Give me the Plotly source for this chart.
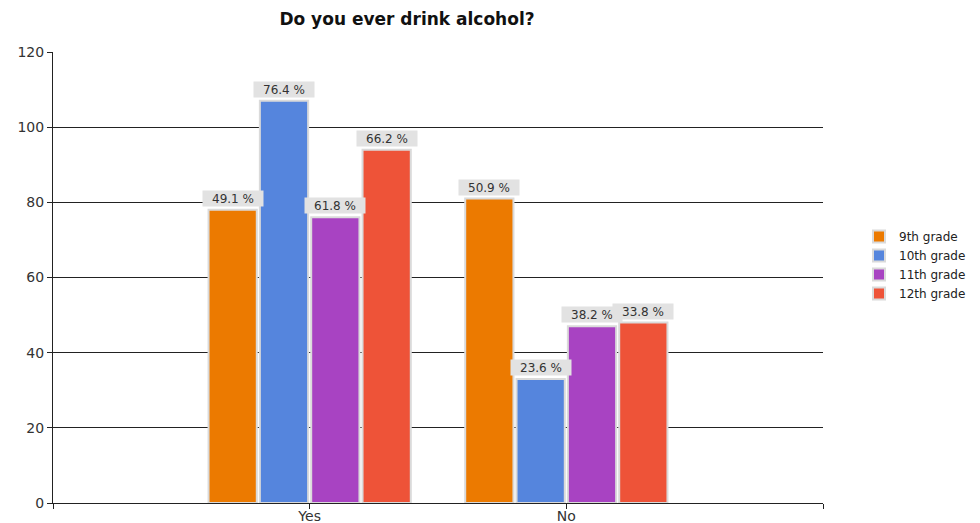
import plotly.graph_objects as go

categories = ["Yes", "No"]
grades = ["9th grade", "10th grade", "11th grade", "12th grade"]
counts_9 = [78, 81]
counts_10 = [107, 33]
counts_11 = [76, 47]
counts_12 = [94, 48]
pct_9 = ["49.1 %", "50.9 %"]
pct_10 = ["76.4 %", "23.6 %"]
pct_11 = ["61.8 %", "38.2 %"]
pct_12 = ["66.2 %", "33.8 %"]
colors = ["#EC7A00", "#5585DD", "#A843C2", "#EE5338"]

series = [counts_9, counts_10, counts_11, counts_12]
labels = [pct_9, pct_10, pct_11, pct_12]

FONT = "DejaVu Sans, Verdana, Arial"
W, H = 972, 515          # page body adds an 8px offset
L, R, T, B = 45, 157, 44, 20
PW, PH = W - L - R, H - T - B

xpos = list(range(len(categories)))
fig = go.Figure()
for g, vals, col in zip(grades, series, colors):
    fig.add_trace(go.Bar(
        x=xpos, y=vals, name=g,
        marker=dict(color=col, line=dict(color="#DADADA", width=2)),
    ))

bargap = 0.2
n = len(grades)
w = (1 - bargap) / n
ann = []
for i, (vals, labs) in enumerate(zip(series, labels)):
    off = -(1 - bargap) / 2 + w * (i + 0.5)
    for xi, v, t in zip(xpos, vals, labs):
        ann.append(dict(
            x=xi + off, y=v, xref="x", yref="y", text=t, showarrow=False,
            yanchor="bottom", yshift=3, bgcolor="#E2E2E2",
            font=dict(family=FONT, size=12, color="#333"),
            borderpad=1, width=58, height=13,
        ))

fig.update_layout(
    width=W, height=H,
    paper_bgcolor="white", plot_bgcolor="white",
    margin=dict(l=L, r=R, t=T, b=B, autoexpand=False),
    barmode="group", bargap=bargap, bargroupgap=0.06,
    title=dict(text="<b>Do you ever drink alcohol?</b>", x=399 / W, xanchor="center",
               y=1 - 11 / H, yanchor="middle",
               font=dict(family=FONT, size=17, color="#111")),
    font=dict(family=FONT, size=13, color="#333"),
    legend=dict(x=(851 - L) / PW, y=(H - B - 214) / PH, xanchor="left", yanchor="top",
                font=dict(family=FONT, size=12, color="#222"), tracegroupgap=0,
                itemwidth=30),
    annotations=ann,
    xaxis=dict(range=[-1, 2], tickvals=[-1, 0, 1, 2], ticktext=["", "Yes", "No", ""],
               showgrid=False, showline=True, linecolor="#222", linewidth=1,
               ticks="outside", ticklen=5, tickcolor="#222", zeroline=False,
               ticklabelstandoff=-5,
               automargin=False, tickfont=dict(family=FONT, size=14, color="#333")),
    yaxis=dict(range=[0, 120], dtick=20, showgrid=True, gridcolor="#222", gridwidth=1,
               showline=True, linecolor="#222", linewidth=1, ticks="outside",
               ticklen=5, tickcolor="#222", zeroline=False, automargin=False,
               tickfont=dict(family=FONT, size=14, color="#333")),
)

fig.write_html("out.html")
